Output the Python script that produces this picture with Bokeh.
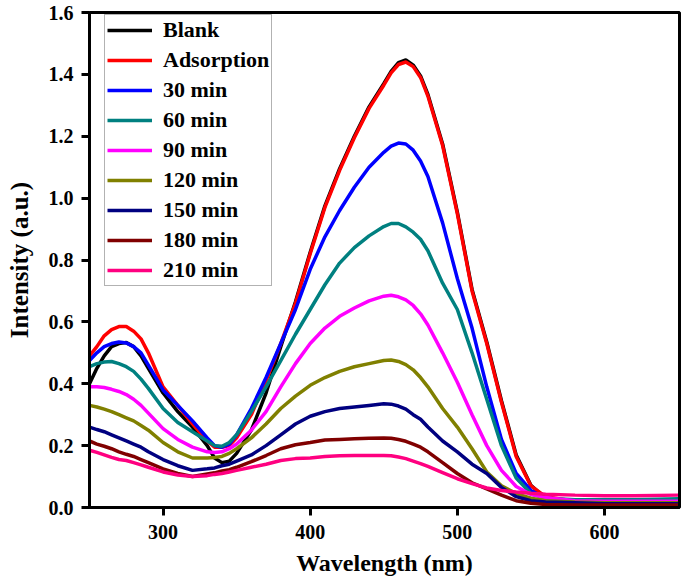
from bokeh.plotting import figure
from bokeh.models import Legend, LegendItem, FixedTicker, PrintfTickFormatter
from bokeh.embed import file_html
from bokeh.resources import INLINE

wavelength = [250, 255, 260, 265, 270, 275, 280, 285, 290, 300, 310, 320, 330, 335, 340, 345, 350,
              360, 370, 380, 390, 400, 410, 420, 430, 440, 450, 455, 460, 465, 470, 475, 480,
              490, 500, 510, 520, 530, 540, 550, 560, 580, 600, 620, 650]

blank = [0.40, 0.45, 0.49, 0.52, 0.53, 0.533, 0.52, 0.49, 0.45, 0.37, 0.31, 0.26, 0.20, 0.16, 0.145, 0.15, 0.175,
         0.25, 0.37, 0.52, 0.665, 0.825, 0.975, 1.095, 1.20, 1.295, 1.37, 1.41, 1.438, 1.447, 1.43, 1.395, 1.335,
         1.175, 0.955, 0.705, 0.535, 0.345, 0.17, 0.072, 0.03, 0.015, 0.012, 0.01, 0.01]
adsorption = [0.49, 0.52, 0.555, 0.575, 0.585, 0.585, 0.57, 0.545, 0.50, 0.39, 0.33, 0.27, 0.215, 0.195, 0.195, 0.20, 0.225,
              0.30, 0.41, 0.53, 0.66, 0.82, 0.97, 1.09, 1.195, 1.29, 1.365, 1.405, 1.432, 1.44, 1.425, 1.39, 1.33,
              1.17, 0.95, 0.70, 0.53, 0.34, 0.165, 0.07, 0.035, 0.02, 0.015, 0.015, 0.015]
min30 = [0.475, 0.50, 0.52, 0.53, 0.535, 0.532, 0.52, 0.50, 0.46, 0.38, 0.33, 0.28, 0.225, 0.20, 0.195, 0.205, 0.235,
         0.32, 0.42, 0.53, 0.64, 0.77, 0.875, 0.96, 1.035, 1.10, 1.148, 1.168, 1.178, 1.175, 1.155, 1.12, 1.07,
         0.92, 0.74, 0.58, 0.39, 0.22, 0.11, 0.055, 0.03, 0.02, 0.018, 0.018, 0.02]
min60 = [0.455, 0.465, 0.47, 0.472, 0.465, 0.455, 0.44, 0.415, 0.385, 0.32, 0.275, 0.245, 0.215, 0.20, 0.198, 0.21, 0.235,
         0.31, 0.39, 0.475, 0.56, 0.64, 0.72, 0.79, 0.84, 0.878, 0.908, 0.918, 0.918, 0.907, 0.89, 0.867, 0.83,
         0.725, 0.64, 0.50, 0.35, 0.20, 0.095, 0.045, 0.03, 0.025, 0.025, 0.025, 0.028]
min90 = [0.39, 0.39, 0.388, 0.382, 0.375, 0.365, 0.35, 0.33, 0.305, 0.255, 0.22, 0.195, 0.18, 0.178, 0.18, 0.19, 0.205,
         0.25, 0.31, 0.39, 0.465, 0.53, 0.58, 0.618, 0.645, 0.668, 0.683, 0.686, 0.681, 0.671, 0.653, 0.626, 0.59,
         0.50, 0.405, 0.30, 0.20, 0.12, 0.068, 0.042, 0.032, 0.022, 0.02, 0.02, 0.02]
min120 = [0.33, 0.325, 0.318, 0.31, 0.30, 0.29, 0.28, 0.265, 0.25, 0.21, 0.18, 0.16, 0.16, 0.162, 0.165, 0.175, 0.19,
          0.225, 0.27, 0.32, 0.36, 0.395, 0.42, 0.44, 0.455, 0.465, 0.475, 0.477, 0.472, 0.462, 0.445, 0.42, 0.39,
          0.32, 0.26, 0.19, 0.115, 0.07, 0.045, 0.03, 0.022, 0.018, 0.015, 0.015, 0.015]
min150 = [0.26, 0.252, 0.245, 0.235, 0.225, 0.215, 0.205, 0.195, 0.18, 0.155, 0.135, 0.12, 0.125, 0.128, 0.135, 0.14, 0.15,
          0.17, 0.20, 0.235, 0.27, 0.295, 0.31, 0.32, 0.325, 0.33, 0.335, 0.334, 0.328, 0.318, 0.30, 0.285, 0.26,
          0.215, 0.18, 0.14, 0.11, 0.065, 0.035, 0.022, 0.018, 0.015, 0.012, 0.012, 0.012]
min180 = [0.215, 0.205, 0.198, 0.19, 0.18, 0.172, 0.165, 0.155, 0.145, 0.125, 0.11, 0.10, 0.108, 0.112, 0.118, 0.122, 0.13,
          0.148, 0.168, 0.19, 0.203, 0.21, 0.218, 0.22, 0.222, 0.224, 0.225, 0.224, 0.22, 0.214, 0.205, 0.195, 0.18,
          0.145, 0.11, 0.08, 0.06, 0.04, 0.022, 0.014, 0.01, 0.008, 0.008, 0.008, 0.008]
min210 = [0.185, 0.178, 0.17, 0.162, 0.155, 0.152, 0.145, 0.138, 0.13, 0.115, 0.105, 0.10, 0.103, 0.107, 0.11, 0.115, 0.12,
          0.13, 0.14, 0.152, 0.158, 0.16, 0.165, 0.167, 0.168, 0.168, 0.168, 0.167, 0.163, 0.158, 0.15, 0.142, 0.133,
          0.113, 0.093, 0.077, 0.063, 0.055, 0.05, 0.046, 0.043, 0.04, 0.038, 0.038, 0.04]

labels = ["Blank", "Adsorption", "30 min", "60 min", "90 min", "120 min", "150 min", "180 min", "210 min"]
colors = ["#000000", "#FF0000", "#0000FF", "#008080", "#FF00FF", "#808000", "#000080", "#800000", "#FF0080"]
series = [blank, adsorption, min30, min60, min90, min120, min150, min180, min210]
y_ticks = [0.0, 0.2, 0.4, 0.6, 0.8, 1.0, 1.2, 1.4, 1.6]
x_ticks = [300, 400, 500, 600]

FONT = "Liberation Serif"

p = figure(width=684, height=583, x_range=(250, 651), y_range=(0, 1.6),
           output_backend="svg", toolbar_location=None,
           min_border_left=89, min_border_right=5, min_border_top=12, min_border_bottom=76)
p.xgrid.visible = False
p.ygrid.visible = False
p.outline_line_color = "black"
p.outline_line_width = 3
p.background_fill_color = "white"
p.border_fill_color = "white"

items = []
for lab, col, ys in zip(labels, colors, series):
    r = p.line(wavelength, ys, line_color=col, line_width=3.5)
    items.append(LegendItem(label=lab, renderers=[r]))

for ax in (p.xaxis[0], p.yaxis[0]):
    ax.axis_line_width = 3
    ax.major_tick_line_width = 3
    ax.major_tick_out = 8
    ax.major_tick_in = 0
    ax.minor_tick_line_color = None
    ax.major_label_text_font = FONT
    ax.major_label_text_font_style = "bold"
    ax.major_label_text_font_size = "20px"
    ax.major_label_text_color = "black"
    ax.axis_label_text_font = FONT
    ax.axis_label_text_font_style = "bold"
    ax.axis_label_text_color = "black"

p.xaxis.ticker = FixedTicker(ticks=x_ticks)
p.yaxis.ticker = FixedTicker(ticks=y_ticks)
p.yaxis.formatter = PrintfTickFormatter(format="%.1f")
p.xaxis.axis_label = "Wavelength (nm)"
p.yaxis.axis_label = "Intensity (a.u.)"
p.xaxis.axis_label_text_font_size = "24px"
p.yaxis.axis_label_text_font_size = "25px"
p.xaxis.major_label_standoff = 9
p.yaxis.major_label_standoff = 8
p.xaxis.axis_label_standoff = 8
p.yaxis.axis_label_standoff = 13

legend = Legend(items=items, location=(15, 221))
legend.label_text_font = FONT
legend.label_text_font_style = "bold"
legend.label_text_font_size = "22px"
legend.label_text_color = "black"
legend.glyph_width = 45
legend.glyph_height = 24
legend.label_standoff = 11
legend.spacing = 4
legend.padding = 2
legend.margin = 0
legend.border_line_color = "#666666"
legend.border_line_width = 1
legend.background_fill_color = "white"
legend.background_fill_alpha = 1.0
p.add_layout(legend)

open("out.html", "w").write(file_html(p, INLINE))
